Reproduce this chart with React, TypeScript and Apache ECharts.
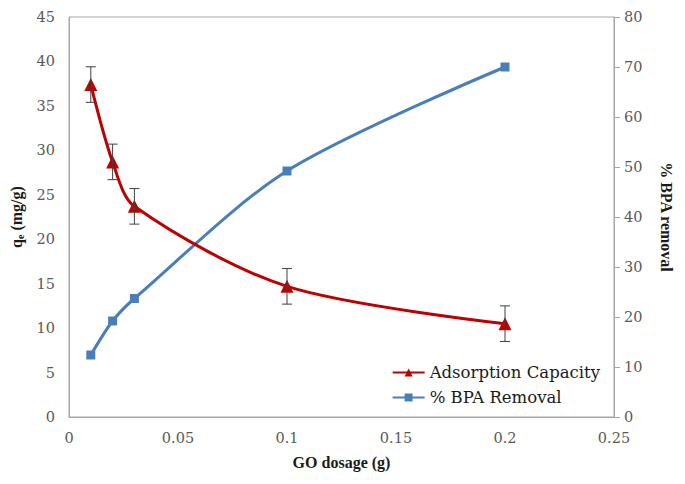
import React, { useEffect, useRef } from "react";
import * as echarts from "echarts";

const dosage = [0.01, 0.02, 0.03, 0.1, 0.2];
const adsorptionCapacity = [37.4, 28.7, 23.7, 14.7, 10.5];
const adsorptionError = [2.0, 2.0, 2.0, 2.0, 2.0];
const bpaRemoval = [12.4, 19.2, 23.7, 49.2, 70.0];
const xTicks = [0, 0.05, 0.1, 0.15, 0.2, 0.25];

const FONT = "'Liberation Serif', serif";
const FONT2 = "'DejaVu Serif', serif";

export default function App() {
  const ref = useRef<HTMLDivElement>(null);
  useEffect(() => {
    if (!ref.current) return;
    const chart = echarts.init(ref.current, undefined, { renderer: "svg" });
    const errData = dosage.map((x, i) => [
      x,
      adsorptionCapacity[i] - adsorptionError[i],
      adsorptionCapacity[i] + adsorptionError[i],
    ]);
    chart.setOption({
      animation: false,
      backgroundColor: "#fff",
      textStyle: { fontFamily: FONT2 },
      grid: {
        left: 68,
        right: 71,
        top: 17,
        bottom: 67,
        show: true,
        borderColor: "#a6a6a6",
        borderWidth: 1,
      },
      legend: {
        data: ["Adsorption Capacity", "% BPA Removal"],
        orient: "vertical",
        right: 80,
        bottom: 73,
        itemWidth: 32,
        itemHeight: 10,
        itemGap: 8,
        textStyle: { fontFamily: FONT2, fontSize: 16.5, fontWeight: "normal", color: "#1a1a1a" },
      },
      xAxis: {
        type: "value",
        min: 0,
        max: 0.25,
        interval: 0.05,
        name: "GO dosage (g)",
        nameLocation: "middle",
        nameGap: 37,
        nameTextStyle: { fontFamily: FONT, fontSize: 16, fontWeight: "bold", color: "#1a1a1a" },
        axisLine: { lineStyle: { color: "#a6a6a6" } },
        axisTick: { show: false },
        splitLine: { show: false },
        axisLabel: {
          fontFamily: FONT2,
          fontWeight: "normal",
          fontSize: 14.5,
          color: "#595959",
          margin: 13,
          formatter: (v: number) => {
            const t = xTicks.find((k) => Math.abs(k - v) < 1e-9);
            return t === undefined ? "" : String(t);
          },
        },
      },
      yAxis: [
        {
          type: "value",
          min: 0,
          max: 45,
          interval: 5,
          position: "left",
          name: "q{sub|e} (mg/g)",
          nameLocation: "middle",
          nameGap: 44,
          nameTextStyle: {
            fontFamily: FONT,
            fontSize: 16,
            fontWeight: "bold",
            color: "#1a1a1a",
            rich: {
              sub: { fontFamily: FONT, fontSize: 10, fontWeight: "bold", color: "#1a1a1a", verticalAlign: "bottom", padding: [8, 0, 0, 0] },
            },
          },
          axisLine: { show: true, lineStyle: { color: "#a6a6a6" } },
          axisTick: { show: false },
          splitLine: { show: false },
          axisLabel: { fontFamily: FONT2, fontWeight: "normal", fontSize: 14.5, color: "#595959", margin: 14 },
        },
        {
          type: "value",
          min: 0,
          max: 80,
          interval: 10,
          position: "right",
          name: "% BPA removal",
          nameLocation: "middle",
          nameRotate: -90,
          nameGap: 44,
          nameTextStyle: { fontFamily: FONT, fontSize: 16, fontWeight: "bold", color: "#1a1a1a" },
          axisLine: { show: true, lineStyle: { color: "#a6a6a6" } },
          axisTick: { show: true, length: 6, lineStyle: { color: "#a6a6a6" } },
          splitLine: { show: false },
          axisLabel: { fontFamily: FONT2, fontWeight: "normal", fontSize: 14.5, color: "#595959", margin: 10 },
        },
      ],
      series: [
        {
          name: "% BPA Removal",
          type: "line",
          yAxisIndex: 1,
          smooth: 0.3,
          data: dosage.map((x, i) => [x, bpaRemoval[i]]),
          symbol: "rect",
          symbolSize: 9,
          lineStyle: { color: "#4a7ebb", width: 3 },
          itemStyle: { color: "#4a7ebb" },
          z: 3,
        },
        {
          name: "Adsorption Capacity",
          type: "line",
          yAxisIndex: 0,
          smooth: 0.3,
          data: dosage.map((x, i) => [x, adsorptionCapacity[i]]),
          symbol: "triangle",
          symbolSize: 13,
          lineStyle: { color: "#be0000", width: 3 },
          itemStyle: { color: "#be0000" },
          z: 4,
        },
        {
          name: "err",
          type: "custom",
          yAxisIndex: 0,
          data: errData,
          z: 5,
          renderItem: (params: any, api: any) => {
            const x = api.value(0);
            const lo = api.coord([x, api.value(1)]);
            const hi = api.coord([x, api.value(2)]);
            const w = 5;
            const style = { stroke: "#404040", lineWidth: 1 };
            return {
              type: "group",
              children: [
                { type: "line", shape: { x1: lo[0], y1: lo[1], x2: hi[0], y2: hi[1] }, style },
                { type: "line", shape: { x1: lo[0] - w, y1: lo[1], x2: lo[0] + w, y2: lo[1] }, style },
                { type: "line", shape: { x1: hi[0] - w, y1: hi[1], x2: hi[0] + w, y2: hi[1] }, style },
              ],
            };
          },
        },
      ],
    });
    return () => chart.dispose();
  }, []);
  return <div ref={ref} style={{ width: 685, height: 484, position: "absolute", left: 0, top: 0 }} />;
}
